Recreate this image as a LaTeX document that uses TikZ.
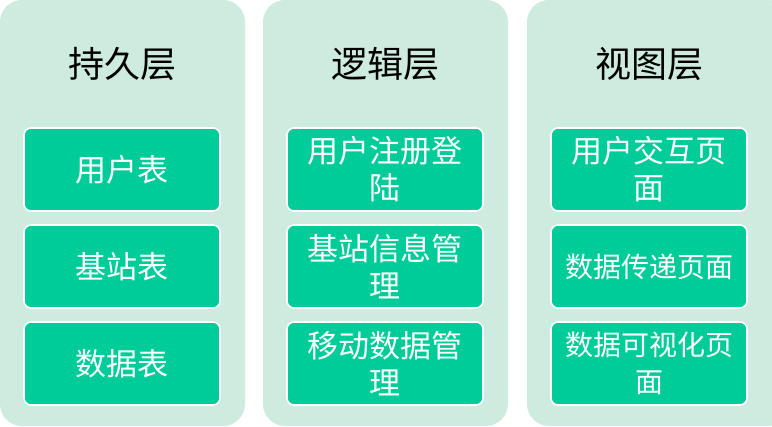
\documentclass[tikz,border=0pt]{standalone}
\usepackage{fontspec}
\setmainfont{Noto Sans CJK SC}
\usetikzlibrary{positioning}
\definecolor{panelfill}{HTML}{CDEBDE}
\definecolor{boxfill}{HTML}{00CC99}
\tikzset{
  panel/.style={fill=panelfill, draw=none, rounded corners=22pt},
  title/.style={text=black, font=\fontsize{36}{40}\selectfont, inner sep=0pt},
  itembox/.style={fill=boxfill, draw=white, line width=1.6pt, rounded corners=7pt,
    minimum width=196pt, minimum height=83pt, text=white, align=center, inner sep=0pt,
    font=\fontsize{31}{37}\selectfont},
  smalltext/.style={font=\fontsize{28}{37}\selectfont}
}
\begin{document}
\begin{tikzpicture}[x=1pt,y=-1pt]
\useasboundingbox (0,0) rectangle (772,427);
\fill[white] (0,0) rectangle (772,427);
% panels
\path[panel] (0,0) rectangle (245,426);
\path[panel] (263,0) rectangle (508,426);
\path[panel] (527,0) rectangle (790,426);
% titles
\node[title] (t1) at (122,64) {持久层};
\node[title] (t2) at (385,64) {逻辑层};
\node[title] (t3) at (649,64) {视图层};
% column 1
\node[itembox] (a1) at (122,169.5) {用户表};
\node[itembox] (a2) at (122,266.5) {基站表};
\node[itembox] (a3) at (122,363.5) {数据表};
% column 2
\node[itembox] (b1) at (385,169.5) {用户注册登\\陆};
\node[itembox] (b2) at (385,266.5) {基站信息管\\理};
\node[itembox] (b3) at (385,363.5) {移动数据管\\理};
% column 3
\node[itembox] (c1) at (649,169.5) {用户交互页\\面};
\node[itembox, smalltext] (c2) at (649,266.5) {数据传递页面};
\node[itembox, smalltext] (c3) at (649,363.5) {数据可视化页\\面};
\end{tikzpicture}
\end{document}
